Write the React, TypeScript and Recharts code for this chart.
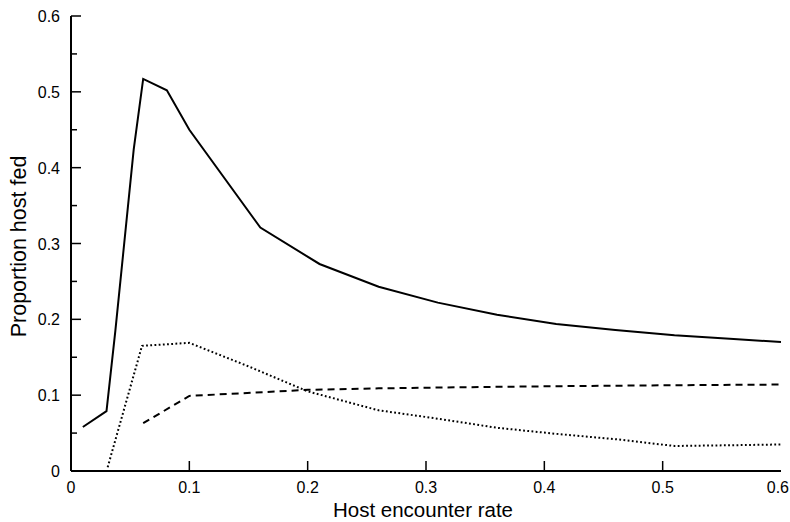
import React from 'react';
import { LineChart, Line, XAxis, YAxis, Label } from 'recharts';

// Solid curve: total proportion host fed
const solidX = [0.01, 0.03, 0.0375, 0.053, 0.061, 0.081, 0.1, 0.16, 0.21, 0.26, 0.31, 0.36, 0.41, 0.46, 0.51, 0.56, 0.6];
const solidY = [0.058, 0.079, 0.185, 0.424, 0.517, 0.502, 0.45, 0.321, 0.273, 0.243, 0.222, 0.206, 0.194, 0.186, 0.179, 0.174, 0.17];

// Dotted curve
const dottedX = [0.031, 0.06, 0.1, 0.15, 0.2, 0.26, 0.31, 0.36, 0.41, 0.46, 0.51, 0.56, 0.6];
const dottedY = [0.005, 0.165, 0.169, 0.138, 0.105, 0.08, 0.069, 0.057, 0.049, 0.042, 0.033, 0.034, 0.035];

// Dashed curve
const dashedX = [0.061, 0.1, 0.2, 0.26, 0.36, 0.42, 0.5, 0.6];
const dashedY = [0.063, 0.099, 0.107, 0.109, 0.111, 0.112, 0.113, 0.114];

const xTicks = [0, 0.1, 0.2, 0.3, 0.4, 0.5, 0.6];
const xTickLabels = ['0', '0.1', '0.2', '0.3', '0.4', '0.5', '0.6'];
const yTicks = [0, 0.05, 0.1, 0.15, 0.2, 0.25, 0.3, 0.35, 0.4, 0.45, 0.5, 0.55, 0.6];
const yTickLabels = ['0', '', '0.1', '', '0.2', '', '0.3', '', '0.4', '', '0.5', '', '0.6'];

const xTitle = 'Host encounter rate';
const yTitle = 'Proportion host fed';

const zip = (xs: number[], ys: number[]) => xs.map((x, i) => ({ x, y: ys[i] }));
const solidData = zip(solidX, solidY);
const dottedData = zip(dottedX, dottedY);
const dashedData = zip(dashedX, dashedY);

const FONT = '"Liberation Sans", Arial, Helvetica, sans-serif';

const XTick = (props: any) => {
  const { x, y, index } = props;
  const last = index === xTicks.length - 1;
  return (
    <g>
      {index > 0 && !last && <line x1={x} y1={y} x2={x} y2={y - 10} stroke="#000" strokeWidth={1.5} />}
      <text
        x={last ? x + 8 : x}
        y={y + 22}
        textAnchor={last ? 'end' : 'middle'}
        fontSize={16}
        fontFamily={FONT}
        fill="#000"
      >
        {xTickLabels[index]}
      </text>
    </g>
  );
};

const YTick = (props: any) => {
  const { x, y, index } = props;
  const major = index % 2 === 0;
  return (
    <g>
      {index > 0 && <line x1={x} y1={y} x2={x + (major ? 10 : 6)} y2={y} stroke="#000" strokeWidth={1.5} />}
      {major && (
        <text x={x - 11} y={y + 6} textAnchor="end" fontSize={16} fontFamily={FONT} fill="#000">
          {yTickLabels[index]}
        </text>
      )}
    </g>
  );
};

const XTitle = (props: any) => {
  const vb = props.viewBox;
  return (
    <text x={vb.x + vb.width / 2 - 3} y={vb.y + 46} textAnchor="middle" fontSize={20.5} fontFamily={FONT} fill="#000">
      {xTitle}
    </text>
  );
};

const YTitle = (props: any) => {
  const vb = props.viewBox;
  const cx = 26;
  const cy = vb.y + vb.height / 2 + 3;
  return (
    <text x={cx} y={cy} transform={`rotate(-90 ${cx} ${cy})`} textAnchor="middle" fontSize={21.5} fontFamily={FONT} fill="#000">
      {yTitle}
    </text>
  );
};

export default function App() {
  return (
    <div style={{ position: 'absolute', left: 0, top: 0, width: 790, height: 522, background: '#fff' }}>
      <LineChart width={790} height={522} margin={{ top: 16, right: 9, bottom: 0, left: 0 }}>
        <XAxis
          type="number"
          dataKey="x"
          domain={[0, 0.6]}
          ticks={xTicks}
          interval={0}
          allowDataOverflow
          height={51}
          tickSize={0}
          tickMargin={0}
          tickLine={false}
          tick={<XTick />}
          axisLine={{ stroke: '#000', strokeWidth: 2 }}
        >
          <Label content={<XTitle />} />
        </XAxis>
        <YAxis
          type="number"
          dataKey="y"
          domain={[0, 0.6]}
          ticks={yTicks}
          interval={0}
          allowDataOverflow
          width={71}
          tickSize={0}
          tickMargin={0}
          tickLine={false}
          tick={<YTick />}
          axisLine={{ stroke: '#000', strokeWidth: 2 }}
        >
          <Label content={<YTitle />} />
        </YAxis>
        <Line data={solidData} dataKey="y" type="linear" stroke="#000" strokeWidth={2} dot={false} isAnimationActive={false} />
        <Line data={dottedData} dataKey="y" type="linear" stroke="#000" strokeWidth={2} strokeDasharray="1.8 2.4" dot={false} isAnimationActive={false} />
        <Line data={dashedData} dataKey="y" type="linear" stroke="#000" strokeWidth={2} strokeDasharray="7 5" dot={false} isAnimationActive={false} />
      </LineChart>
    </div>
  );
}
